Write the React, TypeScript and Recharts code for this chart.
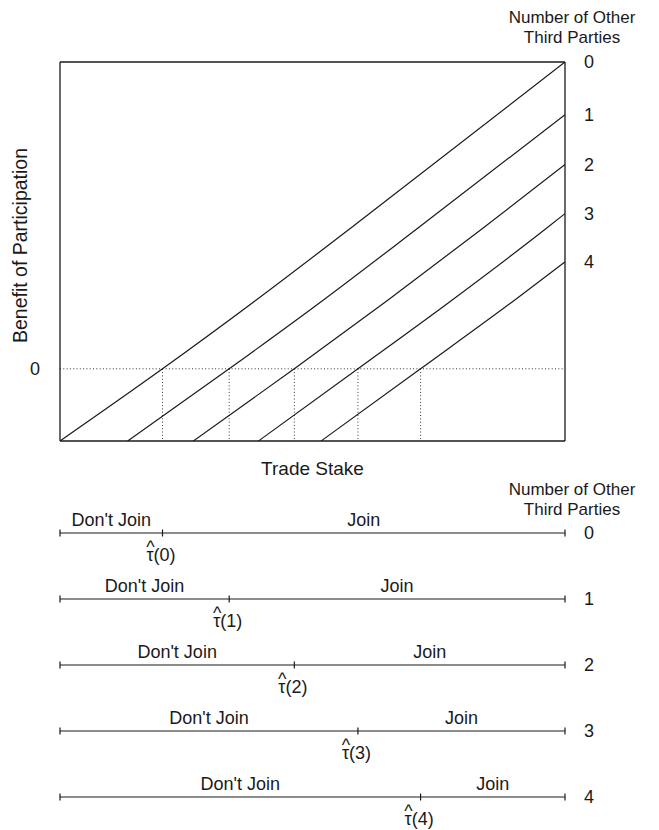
import React from "react";
import {
  LineChart,
  Line,
  XAxis,
  YAxis,
  ReferenceLine,
} from "recharts";

// number of other third parties
const partyCounts = ["0", "1", "2", "3", "4"];

// trade stake / benefit points for each curve (0..4 other parties)
const stake0 = [0, 20.3, 38.8, 57.4, 100];
const benefit0 = [-1, 0, 0.95, 1.94, 4.25];
const stake1 = [13.4, 33.5, 52.1, 70.7, 100];
const benefit1 = [-1, 0, 0.95, 1.94, 3.52];
const stake2 = [26.4, 46.4, 64.9, 83.6, 100];
const benefit2 = [-1, 0, 0.95, 1.94, 2.83];
const stake3 = [39.3, 59.0, 77.6, 96.2, 100];
const benefit3 = [-1, 0, 0.95, 1.94, 2.15];
const stake4 = [51.7, 71.4, 90.0, 100];
const benefit4 = [-1, 0, 0.95, 1.48];

// participation thresholds tau-hat(n)
const thresholds = [20.3, 33.5, 46.4, 59.0, 71.4];

const stakes = [stake0, stake1, stake2, stake3, stake4];
const benefits = [benefit0, benefit1, benefit2, benefit3, benefit4];

const FONT = "'Liberation Sans', Arial, Helvetica, sans-serif";
const INK = "#1a1a1a";
const Y_MIN = -1;
const Y_MAX = 4.25;

const curves = stakes.map((xs, i) =>
  xs.map((x, j) => ({ x, y: benefits[i][j] }))
);
const endValues = benefits.map((b) => b[b.length - 1]);

const rows = thresholds.map((t, r) => [
  { x: 0, y: r, kind: "end" },
  { x: t / 2, y: r, kind: "dont" },
  { x: t, y: r, kind: "tau", n: partyCounts[r] },
  { x: (t + 100) / 2, y: r, kind: "join" },
  { x: 100, y: r, kind: "end" },
]);

const textStyle = { fontFamily: FONT, fontSize: 18, fill: INK };

function RowMark(props: any) {
  const { cx, cy, payload, index } = props;
  if (cx == null || cy == null) return <g key={index} />;
  if (payload.kind === "dont" || payload.kind === "join") {
    return (
      <text key={index} x={cx} y={cy - 7} textAnchor="middle" {...textStyle}>
        {payload.kind === "dont" ? "Don't Join" : "Join"}
      </text>
    );
  }
  const tick = (
    <line x1={cx} x2={cx} y1={cy - 3.5} y2={cy + 3.5} stroke={INK} strokeWidth={1.2} />
  );
  if (payload.kind === "tau") {
    return (
      <g key={index}>
        {tick}
        <text x={cx - 12} y={cy + 20} textAnchor="middle" {...textStyle}>
          ^
        </text>
        <text x={cx - 16} y={cy + 28} textAnchor="start" {...textStyle}>
          {`τ(${payload.n})`}
        </text>
      </g>
    );
  }
  return <g key={index}>{tick}</g>;
}

function YLabel(props: any) {
  const vb = props.viewBox || { x: 0, y: 54, width: 52, height: 379 };
  const x = vb.x + 12;
  const y = vb.y + vb.height / 2 - 6;
  return (
    <text
      x={x}
      y={y}
      transform={`rotate(-90 ${x} ${y})`}
      textAnchor="middle"
      dominantBaseline="central"
      fontFamily={FONT}
      fontSize={19.5}
      fill={INK}
    >
      Benefit of Participation
    </text>
  );
}

function Header({ top }: { top: number }) {
  return (
    <div
      style={{
        position: "absolute",
        left: 484,
        top,
        width: 160,
        textAlign: "center",
        fontFamily: FONT,
        fontSize: 17,
        lineHeight: "20px",
        color: INK,
      }}
    >
      Number of Other
      <br />
      Third Parties
    </div>
  );
}

export default function App() {
  return (
    <div style={{ position: "relative", width: 643, height: 822 }}>
      <Header top={0} />
      <div style={{ position: "absolute", left: 0, top: 0 }}>
        <LineChart
          width={643}
          height={472}
          margin={{ top: 54, right: 0, bottom: 0, left: 0 }}
        >
          <XAxis
            type="number"
            dataKey="x"
            domain={[0, 100]}
            allowDataOverflow
            tick={false}
            tickLine={false}
            height={39}
            axisLine={{ stroke: INK, strokeWidth: 1.3 }}
            label={{
              value: "Trade Stake",
              position: "insideTop",
              offset: 21,
              style: { ...textStyle, fontSize: 19 },
            }}
          />
          <YAxis
            yAxisId="l"
            type="number"
            domain={[Y_MIN, Y_MAX]}
            allowDataOverflow
            ticks={[0]}
            width={52}
            tickLine={false}
            tickSize={0}
            tickMargin={20}
            tick={textStyle}
            axisLine={{ stroke: INK, strokeWidth: 1.3 }}
            label={YLabel}
          />
          <YAxis
            yAxisId="r"
            orientation="right"
            type="number"
            domain={[Y_MIN, Y_MAX]}
            allowDataOverflow
            ticks={endValues}
            interval={0}
            width={86}
            tickLine={false}
            tickSize={0}
            tickMargin={19}
            tick={textStyle}
            tickFormatter={(v: number) => partyCounts[endValues.indexOf(v)] ?? ""}
            axisLine={{ stroke: INK, strokeWidth: 1.3 }}
          />
          <ReferenceLine yAxisId="l" y={Y_MAX} stroke={INK} strokeWidth={1.3} />
          <ReferenceLine
            yAxisId="l"
            y={0}
            stroke="#333"
            strokeWidth={1}
            strokeDasharray="1 2.3"
          />
          {thresholds.map((t, i) => (
            <ReferenceLine
              key={`v${i}`}
              yAxisId="l"
              segment={[
                { x: t, y: 0 },
                { x: t, y: Y_MIN },
              ]}
              stroke="#333"
              strokeWidth={1}
              strokeDasharray="1 2.3"
            />
          ))}
          {curves.map((c, i) => (
            <Line
              key={`c${i}`}
              yAxisId="l"
              data={c}
              dataKey="y"
              type="monotone"
              stroke={INK}
              strokeWidth={1.2}
              dot={false}
              activeDot={false}
              isAnimationActive={false}
            />
          ))}
        </LineChart>
      </div>
      <Header top={472} />
      <div style={{ position: "absolute", left: 0, top: 492 }}>
        <LineChart
          width={643}
          height={330}
          margin={{ top: 33, right: 0, bottom: 33, left: 52 }}
        >
          <XAxis type="number" dataKey="x" domain={[0, 100]} hide />
          <YAxis
            orientation="right"
            type="number"
            domain={[0, 4]}
            reversed
            ticks={[0, 1, 2, 3, 4]}
            interval={0}
            width={86}
            axisLine={false}
            tickLine={false}
            tickSize={0}
            tickMargin={19}
            tick={textStyle}
            tickFormatter={(v: number) => partyCounts[v]}
          />
          {rows.map((r, i) => (
            <Line
              key={`r${i}`}
              data={r}
              dataKey="y"
              type="linear"
              stroke={INK}
              strokeWidth={1.2}
              dot={RowMark}
              activeDot={false}
              isAnimationActive={false}
            />
          ))}
        </LineChart>
      </div>
    </div>
  );
}
